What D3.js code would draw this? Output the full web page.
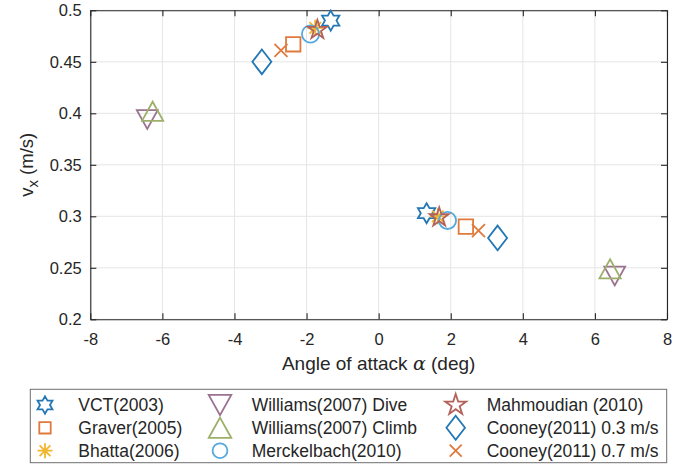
<!DOCTYPE html>
<html>
<head>
<meta charset="utf-8">
<script src="https://cdn.jsdelivr.net/npm/d3@7"></script>
<style>
  html, body { margin: 0; padding: 0; background: #fff; }
  svg { display: block; }
  text { font-family: "Liberation Sans", Arial, Helvetica, sans-serif; fill: #262626; }
</style>
</head>
<body>
<svg id="chart" width="697" height="467"></svg>
<script>
// Published glider studies: forward speed v_x against angle of attack
const seriesNames = [
  "VCT(2003)", "Graver(2005)", "Bhatta(2006)",
  "Williams(2007) Dive", "Williams(2007) Climb", "Merckelbach(2010)",
  "Mahmoudian (2010)", "Cooney(2011) 0.3 m/s", "Cooney(2011) 0.7 m/s"
];
// angle of attack (deg), one pair per study
const alphaDeg = [
  [-1.33, 1.33],
  [-2.37, 2.42],
  [-1.76, 1.64],
  [-6.42, 6.55],
  [-6.27, 6.42],
  [-1.89, 1.91],
  [-1.70, 1.68],
  [-3.24, 3.30],
  [-2.71, 2.77]
];
// forward speed (m/s)
const vxValues = [
  [0.490, 0.303],
  [0.467, 0.290],
  [0.483, 0.300],
  [0.394, 0.242],
  [0.402, 0.249],
  [0.477, 0.296],
  [0.481, 0.299],
  [0.450, 0.279],
  [0.461, 0.286]
];
const markerKinds = ["hexagram", "square", "asterisk", "triDown", "triUp", "circle", "pentagram", "diamond", "cross"];
const markerColors = ["#2277b4", "#e07a3c", "#f1b62c", "#9a7290", "#9db06a", "#55a9df", "#b3625a", "#2277b4", "#e07a3c"];
const xTicks = [-8, -6, -4, -2, 0, 2, 4, 6, 8];
const xTickLabels = ["-8", "-6", "-4", "-2", "0", "2", "4", "6", "8"];
const yTicks = [0.2, 0.25, 0.3, 0.35, 0.4, 0.45, 0.5];
const yTickLabels = ["0.2", "0.25", "0.3", "0.35", "0.4", "0.45", "0.5"];

const svg = d3.select("#chart");
const plot = { left: 90.3, right: 667, top: 10.3, bottom: 319.3 };

const x = d3.scaleLinear().domain([-8, 8]).range([plot.left, plot.right]);
const y = d3.scaleLinear().domain([0.2, 0.5]).range([plot.bottom, plot.top]);

// marker outlines, centred on the origin
function markerPath(kind, s) {
  const p = d3.path();
  if (kind === "hexagram") {
    const R = s, r = s / Math.sqrt(3);
    for (let i = 0; i < 12; i++) {
      const a = -Math.PI / 2 + i * Math.PI / 6;
      const rr = i % 2 === 0 ? R : r;
      const px = rr * Math.cos(a), py = rr * Math.sin(a);
      i === 0 ? p.moveTo(px, py) : p.lineTo(px, py);
    }
    p.closePath();
  } else if (kind === "pentagram") {
    const R = s, r = s * 0.382;
    for (let i = 0; i < 10; i++) {
      const a = -Math.PI / 2 + i * Math.PI / 5;
      const rr = i % 2 === 0 ? R : r;
      const px = rr * Math.cos(a), py = rr * Math.sin(a);
      i === 0 ? p.moveTo(px, py) : p.lineTo(px, py);
    }
    p.closePath();
  } else if (kind === "square") {
    p.rect(-s, -s, 2 * s, 2 * s);
  } else if (kind === "circle") {
    p.moveTo(s, 0);
    p.arc(0, 0, s, 0, 2 * Math.PI);
    p.closePath();
  } else if (kind === "diamond") {
    const h = s * 1.3;
    p.moveTo(0, -h); p.lineTo(s, 0); p.lineTo(0, h); p.lineTo(-s, 0); p.closePath();
  } else if (kind === "triUp") {
    const h = s * 0.9;
    p.moveTo(0, -h); p.lineTo(s, h); p.lineTo(-s, h); p.closePath();
  } else if (kind === "triDown") {
    const h = s * 0.9;
    p.moveTo(-s, -h); p.lineTo(s, -h); p.lineTo(0, h); p.closePath();
  } else if (kind === "cross") {
    p.moveTo(-s, -s); p.lineTo(s, s); p.moveTo(-s, s); p.lineTo(s, -s);
  } else if (kind === "asterisk") {
    const d = s * 0.72;
    p.moveTo(-s, 0); p.lineTo(s, 0);
    p.moveTo(0, -s); p.lineTo(0, s);
    p.moveTo(-d, -d); p.lineTo(d, d);
    p.moveTo(-d, d); p.lineTo(d, -d);
  }
  return p.toString();
}
const plotSize = { hexagram: 10, pentagram: 10, square: 7.2, circle: 8.6, diamond: 9.5, triUp: 10.6, triDown: 10.4, cross: 6.5, asterisk: 8 };
const legendSize = { hexagram: 8.6, pentagram: 11, square: 5.7, circle: 7.4, diamond: 9.3, triUp: 11.3, triDown: 11.3, cross: 6, asterisk: 7.5 };

// grid
const grid = svg.append("g");
grid.selectAll(".gx").data(xTicks).join("line")
  .attr("x1", d => x(d)).attr("x2", d => x(d))
  .attr("y1", plot.top).attr("y2", plot.bottom)
  .attr("stroke", "#e5e5e5").attr("stroke-width", 1);
grid.selectAll(".gy").data(yTicks).join("line")
  .attr("x1", plot.left).attr("x2", plot.right)
  .attr("y1", d => y(d)).attr("y2", d => y(d))
  .attr("stroke", "#e5e5e5").attr("stroke-width", 1);

// axes with inward ticks on all four sides
const tickLen = 6;
const xAxis = d3.axisBottom(x).tickValues(xTicks).tickSizeInner(-tickLen).tickSizeOuter(0).tickFormat((d, i) => xTickLabels[i]);
const yAxis = d3.axisLeft(y).tickValues(yTicks).tickSizeInner(-tickLen).tickSizeOuter(0).tickFormat((d, i) => yTickLabels[i]);
const xTop = d3.axisTop(x).tickValues(xTicks).tickSizeInner(-tickLen).tickSizeOuter(0).tickFormat("");
const yRight = d3.axisRight(y).tickValues(yTicks).tickSizeInner(-tickLen).tickSizeOuter(0).tickFormat("");

function styleAxis(g) {
  g.select(".domain").attr("stroke", "#262626").attr("stroke-width", 1.1);
  g.selectAll(".tick line").attr("stroke", "#262626").attr("stroke-width", 1.1);
  g.selectAll(".tick text").attr("fill", "#262626")
    .style("font-family", '"Liberation Sans", Arial, sans-serif').style("font-size", "16.5px");
}
svg.append("g").attr("transform", `translate(0,${plot.bottom})`).call(xAxis).call(styleAxis)
  .selectAll(".tick text").attr("dy", "0.71em").attr("y", 14);
svg.append("g").attr("transform", `translate(${plot.left},0)`).call(yAxis).call(styleAxis)
  .selectAll(".tick text").attr("x", -8.5);
svg.append("g").attr("transform", `translate(0,${plot.top})`).call(xTop).call(styleAxis);
svg.append("g").attr("transform", `translate(${plot.right},0)`).call(yRight).call(styleAxis);

// axis labels
const xl = svg.append("text")
  .attr("x", (plot.left + plot.right) / 2).attr("y", 370)
  .attr("text-anchor", "middle").style("font-size", "19px");
xl.append("tspan").text("Angle of attack ");
xl.append("tspan").text("\u03B1").style("font-family", '"DejaVu Serif", "Liberation Serif", serif').style("font-style", "italic");
xl.append("tspan").text(" (deg)");

const yl = svg.append("text")
  .attr("transform", `translate(33,${(plot.top + plot.bottom) / 2}) rotate(-90)`)
  .attr("text-anchor", "middle").style("font-size", "18.5px");
yl.append("tspan").text("v");
yl.append("tspan").text("x").attr("dy", 5).style("font-size", "15px");
yl.append("tspan").text(" (m/s)").attr("dy", -5);

// data markers
const marks = svg.append("g").attr("fill", "none").attr("stroke-width", 1.8).attr("stroke-linejoin", "miter");
seriesNames.forEach((name, i) => {
  const kind = markerKinds[i];
  const pts = alphaDeg[i].map((a, j) => [a, vxValues[i][j]]);
  marks.append("g").selectAll("path").data(pts).join("path")
    .attr("transform", d => `translate(${x(d[0])},${y(d[1])})`)
    .attr("d", markerPath(kind, plotSize[kind]))
    .attr("stroke", markerColors[i]);
});

// legend, three columns filled top to bottom
const legend = { left: 30.3, right: 666.7, top: 389.3, bottom: 462.7 };
svg.append("rect")
  .attr("x", legend.left).attr("y", legend.top)
  .attr("width", legend.right - legend.left).attr("height", legend.bottom - legend.top)
  .attr("fill", "#fff").attr("stroke", "#6f6f6f").attr("stroke-width", 1);
const colMarkerX = [45, 220, 455.7];
const colTextX = [78.3, 251.7, 486.7];
const rowY = [405, 427.8, 450.7];
seriesNames.forEach((name, i) => {
  const col = Math.floor(i / 3), row = i % 3;
  const kind = markerKinds[i];
  svg.append("path")
    .attr("transform", `translate(${colMarkerX[col]},${rowY[row]})`)
    .attr("d", markerPath(kind, legendSize[kind]))
    .attr("fill", "none").attr("stroke", markerColors[i]).attr("stroke-width", 1.8);
  svg.append("text")
    .attr("x", colTextX[col]).attr("y", rowY[row]).attr("dy", "0.35em")
    .style("font-size", "17.5px").attr("fill", "#111")
    .text(name);
});
</script>
</body>
</html>
